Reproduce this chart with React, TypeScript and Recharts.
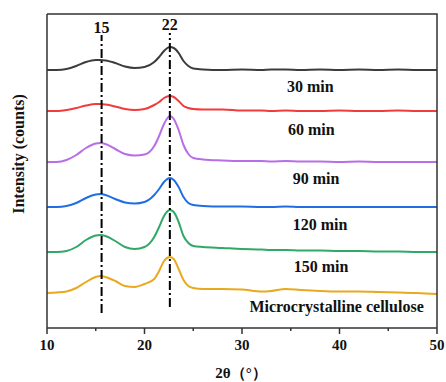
import { LineChart, Line, XAxis, YAxis, ReferenceLine, ReferenceDot } from "recharts";

// 2θ sampling points
const twoTheta = [10, 11, 12, 13, 14, 15, 15.5, 16, 17, 18, 19, 20, 21, 21.5, 22, 22.6, 23, 23.5, 24, 24.5, 25, 26, 28, 30, 32, 33, 34.5, 36, 38, 40, 42, 44, 46, 48, 50];

// stacked intensities (offset curves, arbitrary counts)
const min30 = [258, 258, 259, 262, 266, 268, 268, 267.5, 265, 261.5, 260, 261, 266, 271, 277, 281, 280, 275, 267, 262, 259.5, 258.5, 258, 258.5, 258, 258.5, 258.5, 258, 258.5, 258, 258.5, 258, 258.5, 258, 258];
const min60 = [217, 217, 218, 220, 222.5, 224, 224, 223.5, 221.5, 219, 218, 219, 223, 226, 230, 232, 231, 227, 222, 220, 219, 218.5, 218.5, 217.5, 217.5, 217, 217.5, 217, 217, 217.5, 217, 217, 217.5, 217, 217];
const min90 = [166, 166, 168, 173, 180, 184.5, 185, 184, 179, 174, 172.5, 173.5, 182, 192, 204, 212, 209, 198, 183, 174, 170, 168.5, 167.5, 167, 167, 166.5, 167, 166.5, 166.5, 166, 166.5, 166, 166, 166, 166];
const min120 = [121, 121, 122, 125, 130, 133.5, 134, 133, 129, 125.5, 124.5, 126, 133, 139, 146, 150, 148, 141, 131, 125, 123, 122, 121.5, 121.5, 121, 121, 121.5, 121, 121, 121, 121, 121, 121, 121, 121];
const min150 = [76, 76, 77, 81, 88, 92.5, 93, 92, 87, 81, 79, 81, 91, 101, 112, 118, 116, 106, 92, 85, 82, 81, 80, 79, 78.5, 78, 78, 77.5, 77.5, 77, 77, 76.5, 76.5, 76, 76];
const mcc = [35, 35.5, 36.5, 40, 46, 51, 52, 51, 47, 42, 41, 44, 49, 57, 67, 71, 69, 59, 48, 42, 40, 39, 39, 38.5, 36.5, 37, 39, 38, 37, 36.5, 36.5, 36, 35.5, 35, 34];

const seriesNames = ["min30", "min60", "min90", "min120", "min150", "mcc"];
const seriesValues = [min30, min60, min90, min120, min150, mcc];
const seriesColors = ["#3c3c3c", "#f23b3b", "#b86ee8", "#1f6fe3", "#32a866", "#e9a91e"];

const curveLabels = ["30 min", "60 min", "90 min", "120 min", "150 min", "Microcrystalline cellulose"];
const labelX = [37.0, 37.1, 37.6, 38.0, 38.1, 39.7];
const labelY = [236, 193, 144, 98, 56, 16];

const peakPositions = [15.6, 22.6];
const peakLabels = ["15", "22"];
const peakTop = [293, 295];
const peakBottom = [15, 21];
const peakLabelY = [295, 298];

const xTicks = [10, 15, 20, 25, 30, 35, 40, 45, 50];
const xMajor = [10, 20, 30, 40, 50];

const data = twoTheta.map((t, i) => {
  const row: Record<string, number> = { t };
  seriesNames.forEach((n, k) => {
    row[n] = seriesValues[k][i];
  });
  return row;
});

const font = "'Liberation Serif', 'Times New Roman', serif";
const frame = { stroke: "#333", strokeWidth: 1.5 };

const XTick = (props: any) => {
  const { x, y, payload } = props;
  const major = xMajor.includes(payload.value);
  return (
    <g>
      <line x1={x} y1={y} x2={x} y2={y + (major ? 6 : 3)} stroke="#333" strokeWidth={1.5} />
      {major && (
        <text x={x} y={y + 22} textAnchor="middle" fontFamily={font} fontWeight="bold" fontSize={15} fill="#111">
          {payload.value}
        </text>
      )}
    </g>
  );
};

export default function App() {
  return (
    <div style={{ position: "absolute", left: 0, top: 0, width: 446, height: 382, background: "#fff" }}>
      <LineChart width={446} height={382} data={data} margin={{ top: 14, right: 9, bottom: 24, left: 0 }}>
        <XAxis
          dataKey="t"
          type="number"
          domain={[10, 50]}
          ticks={xTicks}
          interval={0}
          tickSize={0}
          tickMargin={0}
          tickLine={false}
          tick={<XTick />}
          height={30}
          axisLine={frame}
          label={{
            content: () => (
              <text x={241} y={378} textAnchor="middle" fontFamily={font} fontWeight="bold" fontSize={15} fill="#111">
                2θ（°）
              </text>
            ),
          }}
        />
        <YAxis
          type="number"
          domain={[0, 314]}
          width={47}
          tick={false}
          tickLine={false}
          axisLine={frame}
          label={{
            content: () => (
              <text x={24} y={154} transform="rotate(-90 24 154)" textAnchor="middle" fontFamily={font} fontWeight="bold" fontSize={16} fill="#111">
                Intensity (counts)
              </text>
            ),
          }}
        />
        {seriesNames.map((n, k) => (
          <Line key={n} dataKey={n} type="monotone" stroke={seriesColors[k]} strokeWidth={2} dot={false} isAnimationActive={false} />
        ))}
        {peakPositions.map((p, k) => (
          <ReferenceLine
            key={"pl" + k}
            segment={[
              { x: p, y: peakBottom[k] },
              { x: p, y: peakTop[k] },
            ]}
            stroke="#000"
            strokeWidth={2}
            strokeDasharray="9 3 2 3"
          />
        ))}
        {peakPositions.map((p, k) => (
          <ReferenceDot
            key={"pt" + k}
            x={p}
            y={peakLabelY[k]}
            r={0}
            shape={(s: any) => (
              <text x={s.cx} y={s.cy} textAnchor="middle" fontFamily={font} fontWeight="bold" fontSize={16} fill="#111">
                {peakLabels[k]}
              </text>
            )}
          />
        ))}
        {curveLabels.map((l, k) => (
          <ReferenceDot
            key={"cl" + k}
            x={labelX[k]}
            y={labelY[k]}
            r={0}
            shape={(s: any) => (
              <text x={s.cx} y={s.cy} textAnchor="middle" fontFamily={font} fontWeight="bold" fontSize={16} fill="#111">
                {l}
              </text>
            )}
          />
        ))}
      </LineChart>
      {/* top and right edges of the plot frame */}
      <svg width={446} height={382} style={{ position: "absolute", left: 0, top: 0, pointerEvents: "none" }}>
        <path d="M47 14 H437 V328" fill="none" stroke="#333" strokeWidth={1.5} />
      </svg>
    </div>
  );
}
